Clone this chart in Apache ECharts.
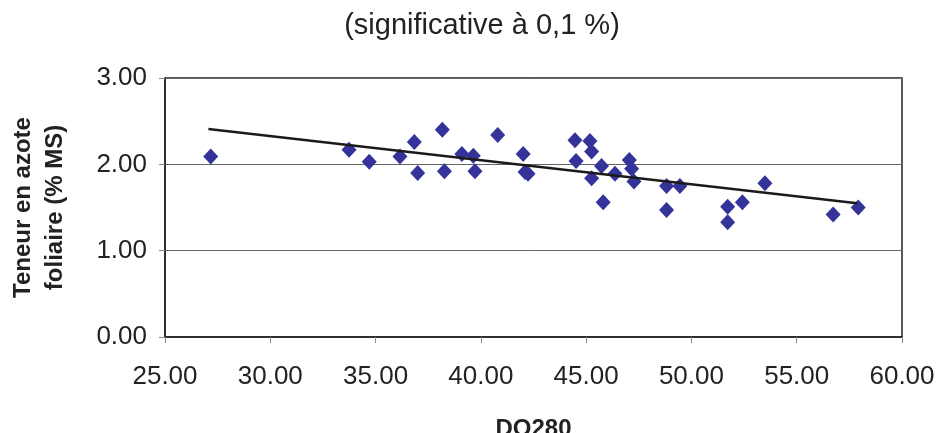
<!DOCTYPE html>
<html>
<head>
<meta charset="utf-8">
<script src="https://cdn.jsdelivr.net/npm/echarts@6/dist/echarts.min.js"></script>
<style>html,body{margin:0;padding:0;background:#fff}#c{width:940px;height:433px}</style>
</head>
<body>
<div id="c"></div>
<script>
const titleText = '(significative à 0,1 %)';
const xAxisName = 'DO280';
const yAxisName = 'Teneur en azote\nfoliaire (% MS)';
const xTicks = [25, 30, 35, 40, 45, 50, 55, 60];
const yTicks = [0, 1, 2, 3];
const do280 = [27.17, 33.74, 34.70, 36.16, 36.84, 37.00, 38.17, 38.27, 39.10, 39.64, 39.72, 40.80, 42.01, 42.10, 42.24,
  44.47, 45.18, 45.26, 44.52, 45.73, 45.26, 46.37, 45.81, 47.05, 47.16, 47.27, 48.82, 49.45, 48.82, 51.72, 51.72, 52.42, 53.49, 56.73, 57.92];
const azote = [2.09, 2.17, 2.03, 2.09, 2.26, 1.90, 2.40, 1.92, 2.12, 2.10, 1.92, 2.34, 2.12, 1.91, 1.89,
  2.28, 2.27, 2.15, 2.04, 1.98, 1.84, 1.89, 1.56, 2.05, 1.95, 1.80, 1.75, 1.75, 1.47, 1.51, 1.33, 1.56, 1.78, 1.42, 1.50];
const trendX = [27.06, 57.87];
const trendY = [2.41, 1.55];

const font = '"Liberation Sans", Arial, sans-serif';
const chart = echarts.init(document.getElementById('c'), null, {renderer: 'canvas'});
chart.setOption({
  animation: false,
  title: {
    text: titleText, left: 477, top: 6, textAlign: 'center',
    textStyle: {fontFamily: font, fontSize: 29, fontWeight: 'normal', color: '#222'}
  },
  grid: {left: 165, right: 38, top: 78, bottom: 96, containLabel: false, outerBoundsMode: 'none',
    show: true, borderColor: '#222', borderWidth: 1.5, backgroundColor: 'transparent'},
  xAxis: {
    type: 'value', min: xTicks[0], max: xTicks[xTicks.length - 1], interval: 5,
    name: xAxisName, nameLocation: 'middle', nameGap: 80,
    nameTextStyle: {fontFamily: font, fontSize: 24, fontWeight: 'bold', color: '#222'},
    axisLine: {show: true, onZero: false, lineStyle: {color: '#222', width: 1.5}},
    axisTick: {show: true, inside: false, length: 6, lineStyle: {color: '#888'}},
    axisLabel: {fontFamily: font, fontSize: 26, color: '#222', margin: 27, formatter: v => v.toFixed(2)},
    splitLine: {show: false}
  },
  yAxis: {
    type: 'value', min: yTicks[0], max: yTicks[yTicks.length - 1], interval: 1,
    name: yAxisName, nameLocation: 'middle', nameGap: 94, nameRotate: 90,
    nameTextStyle: {fontFamily: font, fontSize: 24, fontWeight: 'bold', color: '#222', lineHeight: 32},
    axisLine: {show: true, lineStyle: {color: '#222', width: 1.5}},
    axisTick: {show: true, inside: false, length: 6, lineStyle: {color: '#888'}},
    axisLabel: {fontFamily: font, fontSize: 26, color: '#222', margin: 18, formatter: v => v.toFixed(2)},
    splitLine: {show: true, lineStyle: {color: '#666', width: 1}}
  },
  series: [
    {
      type: 'line', data: trendX.map((x, i) => [x, trendY[i]]), symbol: 'none',
      lineStyle: {color: '#1a1a1a', width: 2.5}, z: 3, silent: true
    },
    {
      type: 'scatter', data: do280.map((x, i) => [x, azote[i]]), symbol: 'diamond', symbolSize: [15, 16],
      itemStyle: {color: '#333399', opacity: 1}, z: 2
    }
  ]
});
</script>
</body>
</html>
